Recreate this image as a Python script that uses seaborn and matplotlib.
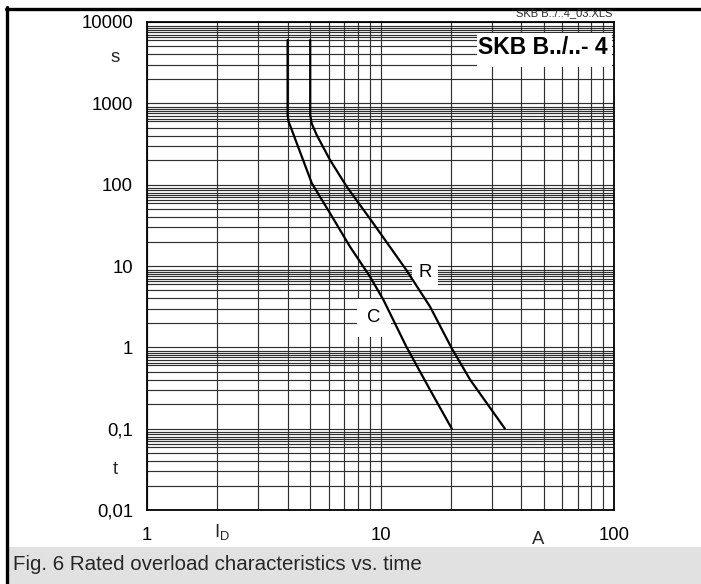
import numpy as np
import pandas as pd
import matplotlib
matplotlib.use("Agg")
import matplotlib.pyplot as plt
import seaborn as sns
from matplotlib.ticker import FixedLocator, NullFormatter
from matplotlib.patches import Rectangle
from matplotlib.lines import Line2D

# ---- data ----
c_current = [4.0, 4.0, 4.04, 4.17, 5.08, 6.08, 7.40, 9.02, 10.3, 12.9, 16.3, 20.2]
c_time = [6000, 720, 594, 470, 104, 44.5, 17.3, 7.38, 3.82, 1.02, 0.30, 0.10]
r_current = [5.0, 5.0, 5.07, 5.33, 6.08, 7.17, 9.31, 12.9, 16.3, 20.2, 24.2, 34.1]
r_time = [6000, 720, 568, 408, 201, 94.4, 33.5, 8.93, 3.16, 0.97, 0.40, 0.10]
y_ticks = [0.01, 0.1, 1, 10, 100, 1000, 10000]
y_ticklabels = ["0,01", "0,1", "1", "10", "100", "1000", "10000"]
x_ticks = [1, 10, 100]
x_ticklabels = ["1", "10", "100"]
y_minor_mults = [2, 3, 4, 5, 6, 6.5, 7, 7.5, 8, 8.5, 9]
x_minor_mults = [2, 3, 4, 5, 6, 7, 8, 9]

df = pd.DataFrame({
    "I": c_current + r_current,
    "t": c_time + r_time,
    "curve": ["C"] * len(c_current) + ["R"] * len(r_current),
})

sns.set_theme(style="white")
plt.rcParams["font.family"] = ["Liberation Sans", "DejaVu Sans"]
plt.rcParams["mathtext.fontset"] = "custom"
plt.rcParams["mathtext.rm"] = "Liberation Sans"
plt.rcParams["mathtext.it"] = "Liberation Sans"

W, H = 701, 584
fig = plt.figure(figsize=(W / 100, H / 100), dpi=100)
fig.patch.set_facecolor("white")
ax = fig.add_axes([147 / W, 1 - 510 / H, 467 / W, 488 / H])
ax.set_facecolor("white")

sns.lineplot(data=df, x="I", y="t", hue="curve", palette={"C": "black", "R": "black"},
             estimator=None, sort=False, legend=False, linewidth=1.6, ax=ax, zorder=5)

ax.set_xscale("log")
ax.set_yscale("log")
ax.set_xlim(1, 100)
ax.set_ylim(0.01, 10000)

ax.set_xticks(x_ticks)
ax.set_xticklabels(x_ticklabels)
ax.set_yticks(y_ticks)
ax.set_yticklabels(y_ticklabels)
ymin = [m * 10.0 ** k for k in range(-2, 4) for m in y_minor_mults]
xmin = [m * 10.0 ** k for k in range(0, 2) for m in x_minor_mults]
ax.yaxis.set_minor_locator(FixedLocator(ymin))
ax.xaxis.set_minor_locator(FixedLocator(xmin))
ax.yaxis.set_minor_formatter(NullFormatter())
ax.xaxis.set_minor_formatter(NullFormatter())
ax.tick_params(which="both", length=0)
ax.tick_params(axis="x", pad=12, labelsize=13.3, labelcolor="black")
ax.tick_params(axis="y", pad=10, labelsize=13.3, labelcolor="black")
ax.grid(which="both", color="#303030", linewidth=0.85)
ax.set_axisbelow(True)
for s in ax.spines.values():
    s.set_visible(True)
    s.set_color("black")
    s.set_linewidth(1.3)
ax.set_xlabel("")
ax.set_ylabel("")

# white boxes covering the grid
ax.add_patch(Rectangle((0.7066, 0.9078), 0.289, 0.0697, transform=ax.transAxes,
                       facecolor="white", edgecolor="none", zorder=3))
ax.text(0.9872, 0.947, "SKB B../..- 4", transform=ax.transAxes, ha="right", va="center",
        fontsize=16.5, fontweight="bold", color="black", zorder=6)
ax.text(15.5, 8.4, "R", ha="center", va="center", fontsize=13.3, color="black", zorder=4,
        bbox=dict(boxstyle="square,pad=0.35", fc="white", ec="none"))
ax.text(9.38, 2.3, "C", ha="center", va="center", fontsize=13.3, color="black", zorder=4,
        bbox=dict(boxstyle="square,pad=0.55", fc="white", ec="none"))

# axis unit texts
fig.text(115 / W, 1 - 58 / H, "s", ha="center", va="center", fontsize=13.3)
fig.text(115 / W, 1 - 469 / H, "t", ha="center", va="center", fontsize=13.3)
fig.text(222 / W, 1 - 532 / H, r"I$_{\mathrm{D}}$", ha="center", va="center", fontsize=13.3)
fig.text(538 / W, 1 - 540 / H, "A", ha="center", va="center", fontsize=13.3)
fig.text(612 / W, 1 - 13 / H, "SKB B../..4_03.XLS", ha="right", va="center", fontsize=8)

# caption band and outer frame
fig.patches.append(Rectangle((8 / W, 0), (W - 8) / W, 37.5 / H, transform=fig.transFigure,
                             facecolor="#e1e1e1", edgecolor="none", zorder=0))
fig.text(13 / W, 1 - 565 / H, "Fig. 6 Rated overload characteristics vs. time",
         ha="left", va="center", fontsize=14.8)
fig.lines.append(Line2D([6.8 / W, 6.8 / W], [0, 1 - 7 / H], transform=fig.transFigure,
                        color="black", linewidth=2.4))
fig.lines.append(Line2D([5.5 / W, 1], [1 - 8.5 / H, 1 - 8.5 / H], transform=fig.transFigure,
                        color="black", linewidth=2.4))

fig.savefig("out.png", dpi=100)
